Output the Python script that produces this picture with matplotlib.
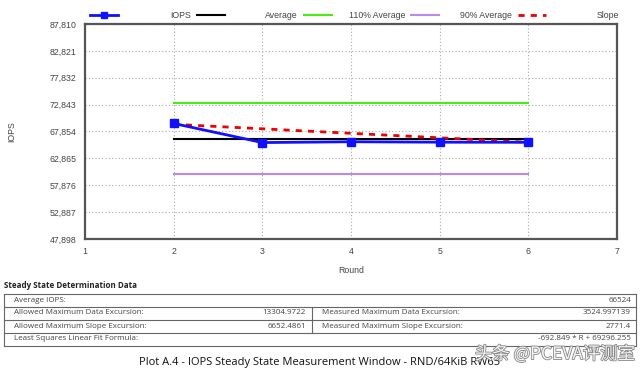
import matplotlib
matplotlib.use("Agg")
import matplotlib.pyplot as plt
from matplotlib.lines import Line2D
from matplotlib.ticker import FuncFormatter
import matplotlib.patheffects as pe

# chart data
rounds = [2, 3, 4, 5, 6]
iops = [69350, 65800, 65950, 65870, 65850]
average = 66524
avg_110 = 73176
avg_90 = 59872
slope = [69190, 68355, 67520, 66685, 65850]

y_ticks = [47898, 52887, 57876, 62865, 67854, 72843, 77832, 82821, 87810]
x_ticks = [1, 2, 3, 4, 5, 6, 7]

legend_labels = ["IOPS", "Average", "110% Average", "90% Average", "Slope"]

table_title = "Steady State Determination Data"
avg_row = ("Average IOPS:", "66524")
split_rows = [
    ("Allowed Maximum Data Excursion:", "13304.9722",
     "Measured Maximum Data Excursion:", "3524.997139"),
    ("Allowed Maximum Slope Excursion:", "6652.4861",
     "Measured Maximum Slope Excursion:", "2771.4"),
]
fit_row = ("Least Squares Linear Fit Formula:", "-692.849 * R + 69296.255")
caption = "Plot A.4 - IOPS Steady State Measurement Window - RND/64KiB RW65"
watermark = "头条 @PCEVA评测室"

W, H = 640, 377
fig = plt.figure(figsize=(W / 100, H / 100), dpi=100)
fig.patch.set_facecolor("white")


def fx(px):
    return px / W


def fy(py):
    return 1 - py / H


ax = fig.add_axes([fx(85), fy(239), fx(617) - fx(85), fy(24) - fy(239)])

grey = "#555555"
ax.plot(rounds, iops, color="#1010ff", lw=2, marker="s", ms=6, zorder=5)
ax.plot([rounds[0], rounds[-1]], [average, average], color="black", lw=1.5, zorder=3)
ax.plot([rounds[0], rounds[-1]], [avg_110, avg_110], color="#44ee11", lw=1.5, zorder=3)
ax.plot([rounds[0], rounds[-1]], [avg_90, avg_90], color="#bb88ee", lw=1.5, zorder=3)
ax.plot(rounds, slope, color="#ee0000", lw=2, ls=(0, (2.2, 2.2)), zorder=4)

ax.set_xlim(x_ticks[0], x_ticks[-1])
ax.set_ylim(y_ticks[0], y_ticks[-1])
ax.set_xticks(x_ticks)
ax.set_yticks(y_ticks)
ax.yaxis.set_major_formatter(FuncFormatter(lambda v, p: f"{int(round(v)):,}"))
ax.grid(True, color="#aaaaaa", ls=(0, (1, 2)), lw=0.8)
ax.tick_params(length=0, labelsize=6.3, labelcolor="#444444", pad=6)
for lab in ax.get_xticklabels() + ax.get_yticklabels():
    lab.set_family("Liberation Sans")
for sp in ax.spines.values():
    sp.set_color(grey)
    sp.set_linewidth(1.6)
ax.set_xlabel("Round", fontsize=6.3, color="#444444", family="Liberation Sans", labelpad=7)
ax.set_ylabel("IOPS", fontsize=6.3, color="#444444", family="Liberation Sans", labelpad=24)

# legend laid out across the top, handle first then label pushed right
handles = [
    dict(color="#1010ff", lw=2),
    dict(color="black", lw=1.5),
    dict(color="#44ee11", lw=1.5),
    dict(color="#bb88ee", lw=1.5),
    dict(color="#ee0000", lw=2, ls=(0, (2.2, 2.2))),
]
for i, (lab, style) in enumerate(zip(legend_labels, handles)):
    cx = 104 + 107 * i
    fig.add_artist(Line2D([fx(cx - 14), fx(cx + 14)], [fy(15), fy(15)], **style))
    if i == 0:
        fig.add_artist(Line2D([fx(cx)], [fy(15)], color="#1010ff", marker="s", ms=5, lw=0))
    fig.text(fx(191 + 107 * i), fy(15), lab, ha="right", va="center",
             fontsize=6.3, color="#444444", family="Liberation Sans")

# steady state table
tfont = dict(family="Open Sans", fontsize=5.8, color="#444444", va="center")
fig.text(fx(4), fy(286), table_title, family="Open Sans", fontsize=5.8,
         weight="bold", color="#222222", va="center")
left, right, mid = 4, 636, 312
top, rh = 293.5, 13
n_rows = 2 + len(split_rows)
lc = dict(color="#666666", lw=0.8)
for i in range(n_rows + 1):
    fig.add_artist(Line2D([fx(left), fx(right)], [fy(top + i * rh)] * 2, **lc))
fig.add_artist(Line2D([fx(left)] * 2, [fy(top), fy(top + n_rows * rh)], **lc))
fig.add_artist(Line2D([fx(right)] * 2, [fy(top), fy(top + n_rows * rh)], **lc))
fig.add_artist(Line2D([fx(mid)] * 2, [fy(top + rh), fy(top + 3 * rh)], **lc))

rows_y = [top + rh * (i + 0.5) for i in range(n_rows)]
fig.text(fx(14), fy(rows_y[0]), avg_row[0], ha="left", **tfont)
fig.text(fx(631), fy(rows_y[0]), avg_row[1], ha="right", **tfont)
for j, (a, b, c, d) in enumerate(split_rows):
    yy = fy(rows_y[j + 1])
    fig.text(fx(14), yy, a, ha="left", **tfont)
    fig.text(fx(306), yy, b, ha="right", **tfont)
    fig.text(fx(322), yy, c, ha="left", **tfont)
    fig.text(fx(631), yy, d, ha="right", **tfont)
fig.text(fx(14), fy(rows_y[-1]), fit_row[0], ha="left", **tfont)
fig.text(fx(631), fy(rows_y[-1]), fit_row[1], ha="right", **tfont)

fig.text(fx(320), fy(363), caption, ha="center", va="center",
         family="Open Sans", fontsize=8, color="#111111")
fig.text(fx(635), fy(354), watermark, ha="right", va="center",
         family=["Noto Sans CJK SC", "DejaVu Sans"], fontsize=12.5,
         color="#f4f4f4",
         path_effects=[pe.withStroke(linewidth=1.2, foreground="#888888")])

fig.savefig("out.png", dpi=100, facecolor="white")
